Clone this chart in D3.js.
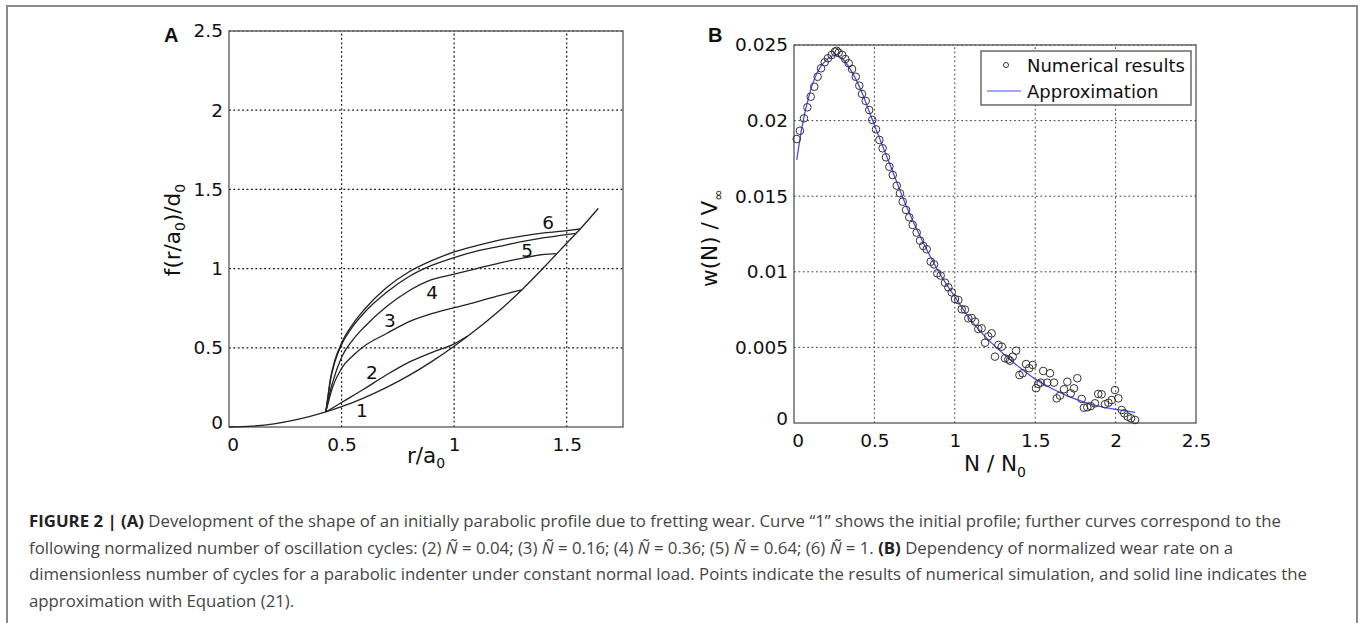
<!DOCTYPE html>
<html>
<head>
<meta charset="utf-8">
<script src="https://cdn.jsdelivr.net/npm/d3@7/dist/d3.min.js"></script>
<style>
  body { margin: 0; background: #fff; }
  svg { display: block; }
  .tick-label { font-family: "DejaVu Sans", sans-serif; font-size: 18.5px; fill: #111; }
  .axis-label { font-family: "DejaVu Sans", sans-serif; font-size: 21.5px; fill: #111; }
  .panel-letter { font-family: "Liberation Sans", Arial, sans-serif; font-size: 20px; font-weight: bold; fill: #111; }
  .curve-label { font-family: "DejaVu Sans", sans-serif; font-size: 18.5px; fill: #111; }
  .legend-text { font-family: "DejaVu Sans", sans-serif; font-size: 18px; fill: #111; }
  .caption { font-family: "Open Sans", sans-serif; font-size: 16.8px; fill: #454545; }
</style>
</head>
<body>
<div id="figure"></div>
<script>

// ---- panel A: profile shapes f(r/a0)/d0 vs r/a0 ----
const profileTicksX = [0, 0.5, 1, 1.5];
const profileTicksY = [0, 0.5, 1, 1.5, 2, 2.5];

// curve 1, initial parabolic profile
const curve1 = [[0, 0], [0.1, 0.005], [0.2, 0.02], [0.3, 0.046], [0.43, 0.095], [0.5, 0.128],
  [0.6, 0.184], [0.7, 0.25], [0.8, 0.326], [0.9, 0.413], [1.0, 0.51], [1.1, 0.617],
  [1.2, 0.734], [1.3, 0.865], [1.4, 1.01], [1.5, 1.16], [1.56, 1.25], [1.64, 1.38]];
const curve2 = [[0.43, 0.095], [0.5, 0.155], [0.6, 0.24], [0.7, 0.33], [0.8, 0.41],
  [0.9, 0.47], [1.0, 0.525], [1.06, 0.575]];
const curve3 = [[0.43, 0.095], [0.44, 0.15], [0.46, 0.25], [0.5, 0.37], [0.55, 0.45],
  [0.6, 0.51], [0.7, 0.59], [0.8, 0.665], [0.9, 0.715], [1.0, 0.753], [1.1, 0.79],
  [1.2, 0.83], [1.3, 0.865]];
const curve4 = [[0.43, 0.095], [0.44, 0.17], [0.46, 0.28], [0.5, 0.44], [0.55, 0.55],
  [0.6, 0.63], [0.7, 0.76], [0.8, 0.86], [0.9, 0.93], [1.0, 0.965], [1.1, 1.0],
  [1.2, 1.035], [1.3, 1.065], [1.4, 1.09], [1.455, 1.095]];
const curve5 = [[0.43, 0.095], [0.44, 0.19], [0.45, 0.29], [0.47, 0.41], [0.5, 0.52],
  [0.55, 0.635], [0.6, 0.72], [0.7, 0.85], [0.8, 0.95], [0.9, 1.02], [1.0, 1.07],
  [1.1, 1.11], [1.2, 1.14], [1.3, 1.17], [1.4, 1.195], [1.5, 1.215], [1.54, 1.222]];
const curve6 = [[0.43, 0.095], [0.44, 0.2], [0.45, 0.3], [0.47, 0.42], [0.5, 0.53],
  [0.55, 0.65], [0.6, 0.74], [0.7, 0.88], [0.8, 0.98], [0.9, 1.05], [1.0, 1.105],
  [1.1, 1.145], [1.2, 1.18], [1.3, 1.205], [1.4, 1.225], [1.5, 1.24], [1.56, 1.25]];
const profileCurves = [curve1, curve2, curve3, curve4, curve5, curve6];

// curve numbers, placed in data units
const curveLabels = [
  { text: "1", x: 0.59, y: 0.107 },
  { text: "2", x: 0.635, y: 0.341 },
  { text: "3", x: 0.715, y: 0.675 },
  { text: "4", x: 0.902, y: 0.852 },
  { text: "5", x: 1.324, y: 1.117 },
  { text: "6", x: 1.417, y: 1.288 },
];

// ---- panel B: wear rate w(N)/V_inf vs N/N0 ----
const wearTicksX = [0, 0.5, 1, 1.5, 2, 2.5];
const wearTicksY = [0, 0.005, 0.01, 0.015, 0.02, 0.025];

const numericalN = [0.017, 0.037, 0.062, 0.083, 0.104, 0.126, 0.147, 0.168, 0.191, 0.211,
  0.234, 0.255, 0.265, 0.278, 0.30, 0.319, 0.340, 0.361, 0.384, 0.406,
  0.423, 0.446, 0.468, 0.487, 0.51, 0.531, 0.551, 0.572, 0.593, 0.614,
  0.639, 0.659, 0.676, 0.697, 0.717, 0.738, 0.763, 0.784, 0.804, 0.825,
  0.85, 0.871, 0.891, 0.912, 0.939, 0.96, 0.981, 1.001, 1.022, 1.043,
  1.063, 1.084, 1.105, 1.126, 1.146, 1.167, 1.188, 1.208, 1.229, 1.25,
  1.271, 1.292, 1.312, 1.333, 1.343, 1.36, 1.381, 1.402, 1.422, 1.443,
  1.463, 1.484, 1.505, 1.519, 1.534, 1.55, 1.575, 1.592, 1.617, 1.634,
  1.654, 1.679, 1.70, 1.721, 1.741, 1.762, 1.789, 1.803, 1.824, 1.845,
  1.872, 1.892, 1.913, 1.934, 1.955, 1.976, 1.996, 2.017, 2.038, 2.054,
  2.075, 2.096, 2.121];
const numericalW = [0.01878, 0.01933, 0.02015, 0.02088, 0.02158, 0.02224, 0.02290, 0.02346, 0.02386, 0.02412,
  0.02434, 0.02456, 0.02462, 0.02449, 0.02434, 0.02407, 0.02379, 0.02341, 0.02290, 0.02231,
  0.02176, 0.02130, 0.02070, 0.02004, 0.01942, 0.01872, 0.01817, 0.01757, 0.01695, 0.01640,
  0.01570, 0.01519, 0.01464, 0.01409, 0.01360, 0.01310, 0.01259, 0.01206, 0.01171, 0.01149,
  0.01067, 0.01049, 0.0099, 0.00975, 0.00928, 0.00897, 0.00864, 0.0082, 0.00813, 0.00752,
  0.0075, 0.00692, 0.00694, 0.0067, 0.00622, 0.00626, 0.00531, 0.00573, 0.00593, 0.00439,
  0.00516, 0.00505, 0.00428, 0.00421, 0.00412, 0.00439, 0.00478, 0.00317, 0.00329, 0.0039,
  0.00362, 0.00384, 0.0023, 0.00258, 0.00267, 0.00344, 0.00267, 0.00329, 0.00267, 0.00163,
  0.00181, 0.00223, 0.00273, 0.00196, 0.00229, 0.00296, 0.00159, 0.00101, 0.00104, 0.00112,
  0.0013, 0.00192, 0.0019, 0.00124, 0.00134, 0.00152, 0.00218, 0.00163, 0.00086, 0.00064,
  0.00042, 0.00031, 0.0002];

const approxN = [0.017, 0.05, 0.1, 0.15, 0.2, 0.25, 0.3, 0.35, 0.4, 0.5, 0.6, 0.7, 0.8,
  0.9, 1.0, 1.1, 1.2, 1.3, 1.4, 1.5, 1.6, 1.7, 1.8, 1.9, 2.0, 2.12];
const approxW = [0.0174, 0.0196, 0.0219, 0.0233, 0.0240, 0.0243, 0.0241, 0.0234, 0.0224, 0.0197,
  0.0170, 0.0143, 0.0120, 0.0100, 0.00835, 0.0068, 0.0056, 0.0046, 0.0037, 0.0029,
  0.0023, 0.0018, 0.0014, 0.0011, 0.0009, 0.0007];

const legendLabels = ["Numerical results", "Approximation"];

const captionLines = [
  [{ t: "FIGURE 2 | (A)", b: true }, { t: " Development of the shape of an initially parabolic profile due to fretting wear. Curve \u201c1\u201d shows the initial profile; further curves correspond to the" }],
  [{ t: "following normalized number of oscillation cycles: (2) " }, { t: "\u00d1", i: true }, { t: " = 0.04; (3) " }, { t: "\u00d1", i: true }, { t: " = 0.16; (4) " }, { t: "\u00d1", i: true }, { t: " = 0.36; (5) " }, { t: "\u00d1", i: true }, { t: " = 0.64; (6) " }, { t: "\u00d1", i: true }, { t: " = 1. " }, { t: "(B)", b: true }, { t: " Dependency of normalized wear rate on a" }],
  [{ t: "dimensionless number of cycles for a parabolic indenter under constant normal load. Points indicate the results of numerical simulation, and solid line indicates the" }],
  [{ t: "approximation with Equation (21)." }],
];


var width = 1360, height = 623;

var svg = d3
  .select("#figure")
  .append("svg")
  .attr("width", width)
  .attr("height", height);

// figure frame
svg.append("rect")
  .attr("x", 7).attr("y", 6)
  .attr("width", 1350).attr("height", 700)
  .attr("fill", "none")
  .attr("stroke", "#8a8a8a")
  .attr("stroke-width", 2);


function drawFrame(g, x, y, ticksX, ticksY, gridColor, gridWidth) {
  const [x0, x1] = x.range();
  const [y0, y1] = y.range();

  // dotted grid
  g.append("g")
    .selectAll("line")
    .data(ticksX.filter((d) => d > x.domain()[0] && d < x.domain()[1]))
    .enter()
    .append("line")
    .attr("x1", (d) => x(d)).attr("x2", (d) => x(d))
    .attr("y1", y0).attr("y2", y1)
    .attr("stroke", gridColor)
    .attr("stroke-width", gridWidth)
    .attr("stroke-dasharray", "1.8,2.6");
  g.append("g")
    .selectAll("line")
    .data(ticksY.filter((d) => d > y.domain()[0]))
    .enter()
    .append("line")
    .attr("x1", x0).attr("x2", x1)
    .attr("y1", (d) => y(d)).attr("y2", (d) => y(d))
    .attr("stroke", gridColor)
    .attr("stroke-width", gridWidth)
    .attr("stroke-dasharray", "1.8,2.6");

  // box
  g.append("rect")
    .attr("x", x0).attr("y", y1)
    .attr("width", x1 - x0).attr("height", y0 - y1)
    .attr("fill", "none")
    .attr("stroke", "#555")
    .attr("stroke-width", 1.3);

  // tick labels via d3 axes
  const ax = g.append("g")
    .attr("transform", `translate(0,${y0})`)
    .call(d3.axisBottom(x).tickValues(ticksX).tickSize(0).tickPadding(8).tickFormat(d3.format("")));
  const ay = g.append("g")
    .attr("transform", `translate(${x0},0)`)
    .call(d3.axisLeft(y).tickValues(ticksY).tickSize(0).tickPadding(6).tickFormat(d3.format("")));
  [ax, ay].forEach((a) => {
    a.select(".domain").remove();
    a.selectAll("text").attr("class", "tick-label").attr("font-family", null).attr("font-size", null);
  });
  ax.selectAll("text").attr("dy", "0.85em");
  // matlab puts the corner zeros a bit apart
  ay.selectAll("text").filter((d) => d === 0).attr("dy", "0.1em");
  ax.selectAll("text").filter((d) => d === 0).attr("dx", "0.2em");
}


// ---- panel A ----
const xA = d3.scaleLinear().domain([0, 1.75]).range([229, 623]);
const yA = d3.scaleLinear().domain([0, 2.5]).range([427, 31]);
const gA = svg.append("g");
drawFrame(gA, xA, yA, profileTicksX, profileTicksY, "#111", 1.2);

const lineA = d3.line()
  .x((d) => xA(d[0]))
  .y((d) => yA(d[1]))
  .curve(d3.curveMonotoneX);

gA.append("g")
  .selectAll("path")
  .data(profileCurves)
  .enter()
  .append("path")
  .attr("d", lineA)
  .attr("fill", "none")
  .attr("stroke", "#222")
  .attr("stroke-width", 1.3);

gA.append("g")
  .selectAll("text")
  .data(curveLabels)
  .enter()
  .append("text")
  .attr("class", "curve-label")
  .attr("x", (d) => xA(d.x))
  .attr("y", (d) => yA(d.y))
  .attr("text-anchor", "middle")
  .attr("dominant-baseline", "central")
  .text((d) => d.text);

gA.append("text").attr("class", "panel-letter").attr("x", 164).attr("y", 42).text("A");

// y label f(r/a0)/d0
const ylabA = gA.append("text")
  .attr("class", "axis-label")
  .attr("transform", "translate(180,230) rotate(-90)")
  .attr("text-anchor", "middle");
ylabA.append("tspan").text("f(r/a");
ylabA.append("tspan").attr("dy", 5).attr("font-size", 14).text("0");
ylabA.append("tspan").attr("dy", -5).text(")/d");
ylabA.append("tspan").attr("dy", 5).attr("font-size", 14).text("0");

const xlabA = gA.append("text")
  .attr("class", "axis-label")
  .attr("x", 426).attr("y", 463)
  .attr("text-anchor", "middle");
xlabA.append("tspan").text("r/a");
xlabA.append("tspan").attr("dy", 5).attr("font-size", 14).text("0");


// ---- panel B ----
const xB = d3.scaleLinear().domain([0, 2.5]).range([794, 1196]);
const yB = d3.scaleLinear().domain([0, 0.025]).range([423, 45]);
const gB = svg.append("g");
drawFrame(gB, xB, yB, wearTicksX, wearTicksY, "#444", 1);

const approx = approxN.map((n, i) => [n, approxW[i]]);
gB.append("path")
  .datum(approx)
  .attr("d", d3.line().x((d) => xB(d[0])).y((d) => yB(d[1])).curve(d3.curveMonotoneX))
  .attr("fill", "none")
  .attr("stroke", "#4b4bff")
  .attr("stroke-width", 1.3);

gB.append("g")
  .selectAll("circle")
  .data(numericalN.map((n, i) => [n, numericalW[i]]))
  .enter()
  .append("circle")
  .attr("cx", (d) => xB(d[0]))
  .attr("cy", (d) => yB(d[1]))
  .attr("r", 3.8)
  .attr("fill", "none")
  .attr("stroke", "#333")
  .attr("stroke-width", 1);

// legend
const legend = gB.append("g").attr("transform", "translate(981,51)");
legend.append("rect")
  .attr("width", 210).attr("height", 54)
  .attr("fill", "#fff")
  .attr("stroke", "#444")
  .attr("stroke-width", 1.2);
legend.append("circle")
  .attr("cx", 25).attr("cy", 14).attr("r", 2.5)
  .attr("fill", "none").attr("stroke", "#333");
legend.append("line")
  .attr("x1", 6).attr("x2", 40).attr("y1", 40).attr("y2", 40)
  .attr("stroke", "#4b4bff").attr("stroke-width", 1.2);
legend.selectAll("text")
  .data(legendLabels)
  .enter()
  .append("text")
  .attr("class", "legend-text")
  .attr("x", 46)
  .attr("y", (d, i) => 14 + i * 26)
  .attr("dominant-baseline", "central")
  .text((d) => d);

gB.append("text").attr("class", "panel-letter").attr("x", 708).attr("y", 42).text("B");

const ylabB = gB.append("text")
  .attr("class", "axis-label")
  .attr("transform", "translate(717,238) rotate(-90)")
  .attr("text-anchor", "middle");
ylabB.append("tspan").text("w(N) / V");
ylabB.append("tspan").attr("dy", 6).attr("font-size", 14).text("\u221e");

const xlabB = gB.append("text")
  .attr("class", "axis-label")
  .attr("x", 995).attr("y", 471)
  .attr("text-anchor", "middle");
xlabB.append("tspan").text("N / N");
xlabB.append("tspan").attr("dy", 6).attr("font-size", 14).text("0");


// ---- caption ----
const caption = svg.append("g");
captionLines.forEach((parts, li) => {
  const t = caption.append("text")
    .attr("class", "caption")
    .attr("x", 29)
    .attr("y", 527 + li * 26.5);
  parts.forEach((p) => {
    t.append("tspan")
      .attr("font-weight", p.b ? "bold" : null)
      .attr("font-style", p.i ? "italic" : null)
      .attr("fill", p.b ? "#222" : null)
      .text(p.t);
  });
});

</script>
</body>
</html>
